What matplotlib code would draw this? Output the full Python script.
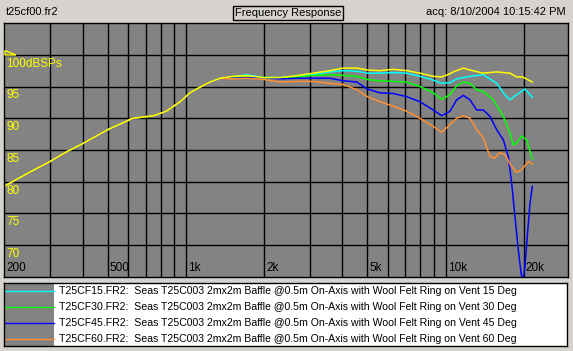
import numpy as np
import matplotlib
matplotlib.use('Agg')
import matplotlib.pyplot as plt
from matplotlib.patches import Rectangle, Polygon

W, H = 573, 351

# shared low-frequency part (all curves overlap below ~1.4k)
freq_low = [200, 250, 300, 350, 400, 500, 625, 750, 840, 950, 1036, 1133, 1238, 1353]
db_low = [79.3, 81.5, 83.2, 84.8, 86.0, 88.2, 90.0, 90.4, 91.1, 92.6, 94.0, 94.9, 95.7, 96.3]

freq_mid = [1519, 1715, 2000, 2303, 2671, 3094, 3587, 4036, 4546, 5000, 5588, 6288, 7084, 7969, 8965, 9661]
yellow_mid = [96.6, 96.7, 96.4, 96.4, 96.7, 97.1, 97.5, 97.9, 97.9, 97.6, 97.5, 97.7, 97.5, 97.1, 96.6, 96.5]
cyan_mid = [96.5, 96.85, 96.4, 96.4, 96.6, 96.9, 97.3, 97.5, 97.4, 97.1, 97.1, 97.2, 97.1, 96.6, 96.0, 95.5]
green_mid = [96.4, 96.6, 96.4, 96.4, 96.5, 96.75, 96.85, 96.75, 96.6, 96.1, 95.9, 95.8, 95.7, 95.0, 94.0, 93.0]
blue_mid = [96.3, 96.4, 96.4, 96.2, 96.3, 96.3, 96.3, 95.9, 95.7, 94.6, 94.0, 93.9, 93.4, 92.6, 91.3, 90.4]
orange_mid = [96.2, 96.3, 96.1, 95.7, 95.8, 95.8, 95.5, 95.3, 94.5, 93.4, 92.6, 91.9, 91.1, 90.0, 88.7, 87.8]

yellow_hf = [10393, 10704, 11696, 12411, 13964, 15725, 17690, 18780, 19800, 21570]
yellow_hi = [97.0, 97.3, 97.9, 97.6, 97.1, 97.3, 97.1, 96.5, 96.5, 95.7]
cyan_hf = [10393, 11030, 12411, 13964, 15725, 16900, 17690, 18780, 20210, 21570]
cyan_hi = [95.6, 96.2, 96.6, 96.85, 95.5, 93.7, 92.9, 93.7, 94.6, 93.3]
green_hf = [10393, 11030, 11696, 12411, 13170, 13964, 15260, 16681, 17690, 18220, 18780, 19640, 20520, 21570]
green_hi = [93.7, 95.1, 95.7, 95.5, 94.5, 94.2, 92.9, 90.3, 87.7, 85.8, 86.1, 87.2, 86.6, 83.6]
blue_hf = [10393, 11030, 11696, 12411, 13170, 13964, 14820, 15725, 16681, 17430, 17960, 18500, 19050,
           19460, 19800, 20210, 20630, 21130, 21570]
blue_hi = [91.1, 92.9, 93.6, 92.9, 91.3, 91.3, 90.3, 88.2, 86.6, 84.0, 79.8, 74.5, 69.3,
           66.1, 64.0, 66.7, 71.4, 76.6, 79.3]
orange_hf = [10393, 11030, 11696, 12411, 13170, 13964, 14820, 15440, 16100, 16900, 17960, 18780, 19640, 20810, 21570]
orange_hi = [89.0, 90.0, 90.4, 90.0, 88.2, 86.9, 84.0, 83.7, 84.6, 84.3, 82.4, 81.5, 81.9, 83.2, 82.8]

legend_names = ["T25CF15.FR2:  Seas T25C003 2mx2m Baffle @0.5m On-Axis with Wool Felt Ring on Vent 15 Deg",
                "T25CF30.FR2:  Seas T25C003 2mx2m Baffle @0.5m On-Axis with Wool Felt Ring on Vent 30 Deg",
                "T25CF45.FR2:  Seas T25C003 2mx2m Baffle @0.5m On-Axis with Wool Felt Ring on Vent 45 Deg",
                "T25CF60.FR2:  Seas T25C003 2mx2m Baffle @0.5m On-Axis with Wool Felt Ring on Vent 60 Deg"]

y_ticks = [100, 95, 90, 85, 80, 75, 70]
y_labels = ['100dBSPs', '95', '90', '85', '80', '75', '70']
x_grid = [300, 400, 500, 600, 700, 800, 900, 1000, 2000, 3000, 4000, 5000, 6000, 7000, 8000, 9000, 10000, 20000]
x_ticks = [200, 500, 1000, 2000, 5000, 10000, 20000]
x_labels = ['200', '500', '1k', '2k', '5k', '10k', '20k']

c_yellow, c_cyan, c_green, c_blue, c_orange = '#ffff00', '#00ffff', '#00ff00', '#0000ff', '#ff9030'

plt.rcParams['font.family'] = ['Liberation Sans', 'DejaVu Sans']


def fx(x):
    return x / W


def fy(y):
    return 1 - y / H


fig = plt.figure(figsize=(W / 100, H / 100), dpi=100, facecolor='#d6d3ce')

# header
fig.text(fx(6), fy(12), 't25cf00.fr2', fontsize=8, va='center', ha='left')
fig.text(fx(288), fy(13), 'Frequency Response', fontsize=8, va='center', ha='center',
         bbox=dict(boxstyle='square,pad=0.15', fc='none', ec='black', lw=1))
fig.text(fx(566), fy(12), 'acq: 8/10/2004 10:15:42 PM', fontsize=8, va='center', ha='right')

# main plot
ax = fig.add_axes([fx(4.4), fy(277), fx(568 - 4.4), (277 - 23) / H])
ax.set_facecolor('#838383')
ax.set_xscale('log')
ax.set_xlim(200, 29600)
ax.set_ylim(65, 105)
for f in x_grid:
    ax.axvline(f, color='black', lw=1)
for v in y_ticks:
    ax.axhline(v, color='black', lw=1)
ax.set_xticks([])
ax.set_yticks([])
ax.minorticks_off()
for s in ax.spines.values():
    s.set_color('black')
    s.set_linewidth(1)

series = [(cyan_mid, cyan_hf, cyan_hi, c_cyan),
          (green_mid, green_hf, green_hi, c_green),
          (blue_mid, blue_hf, blue_hi, c_blue),
          (orange_mid, orange_hf, orange_hi, c_orange),
          (yellow_mid, yellow_hf, yellow_hi, c_yellow)]
for mid, hf, hi, col in series:
    f = np.array(freq_low + freq_mid + hf)
    d = np.array(db_low + mid + hi)
    ax.plot(f, d, color=col, lw=1.1, clip_on=True)

# y labels inside plot, just under each grid line
for v, lab in zip(y_ticks, y_labels):
    ax.annotate(lab, (200, v), xytext=(2, -3), textcoords='offset pixels',
                color='#ffff00', fontsize=8.5, va='top', ha='left')
# x labels inside plot along bottom
for f, lab in zip(x_ticks, x_labels):
    ax.annotate(lab, (f, 65), xytext=(2, 3), textcoords='offset pixels',
                color='black', fontsize=8.5, va='bottom', ha='left')

# small yellow marker triangle at top-left
tri = Polygon([[fx(5), fy(50.5)], [fx(5), fy(55)], [fx(16), fy(55)]], closed=True,
              fill=False, ec='#ffff00', lw=1, transform=fig.transFigure)
fig.patches.append(tri)

# legend box
lax = fig.add_axes([fx(4), fy(346), fx(567 - 4), (346 - 283) / H])
lax.set_xlim(0, 563)
lax.set_ylim(63, 0)
lax.set_xticks([])
lax.set_yticks([])
lax.set_facecolor('white')
for s in lax.spines.values():
    s.set_color('black')
    s.set_linewidth(1)
lax.add_patch(Rectangle((0, 0), 50, 63, fc='#838383', ec='none'))
for i, (name, col) in enumerate(zip(legend_names, [c_cyan, c_green, c_blue, c_orange])):
    yy = 7.5 + i * 16
    lax.plot([0, 50], [yy, yy], color=col, lw=1)
    lax.text(55, yy, name, fontsize=7.6, va='center', ha='left')

fig.savefig('out.png', dpi=100, facecolor=fig.get_facecolor())
